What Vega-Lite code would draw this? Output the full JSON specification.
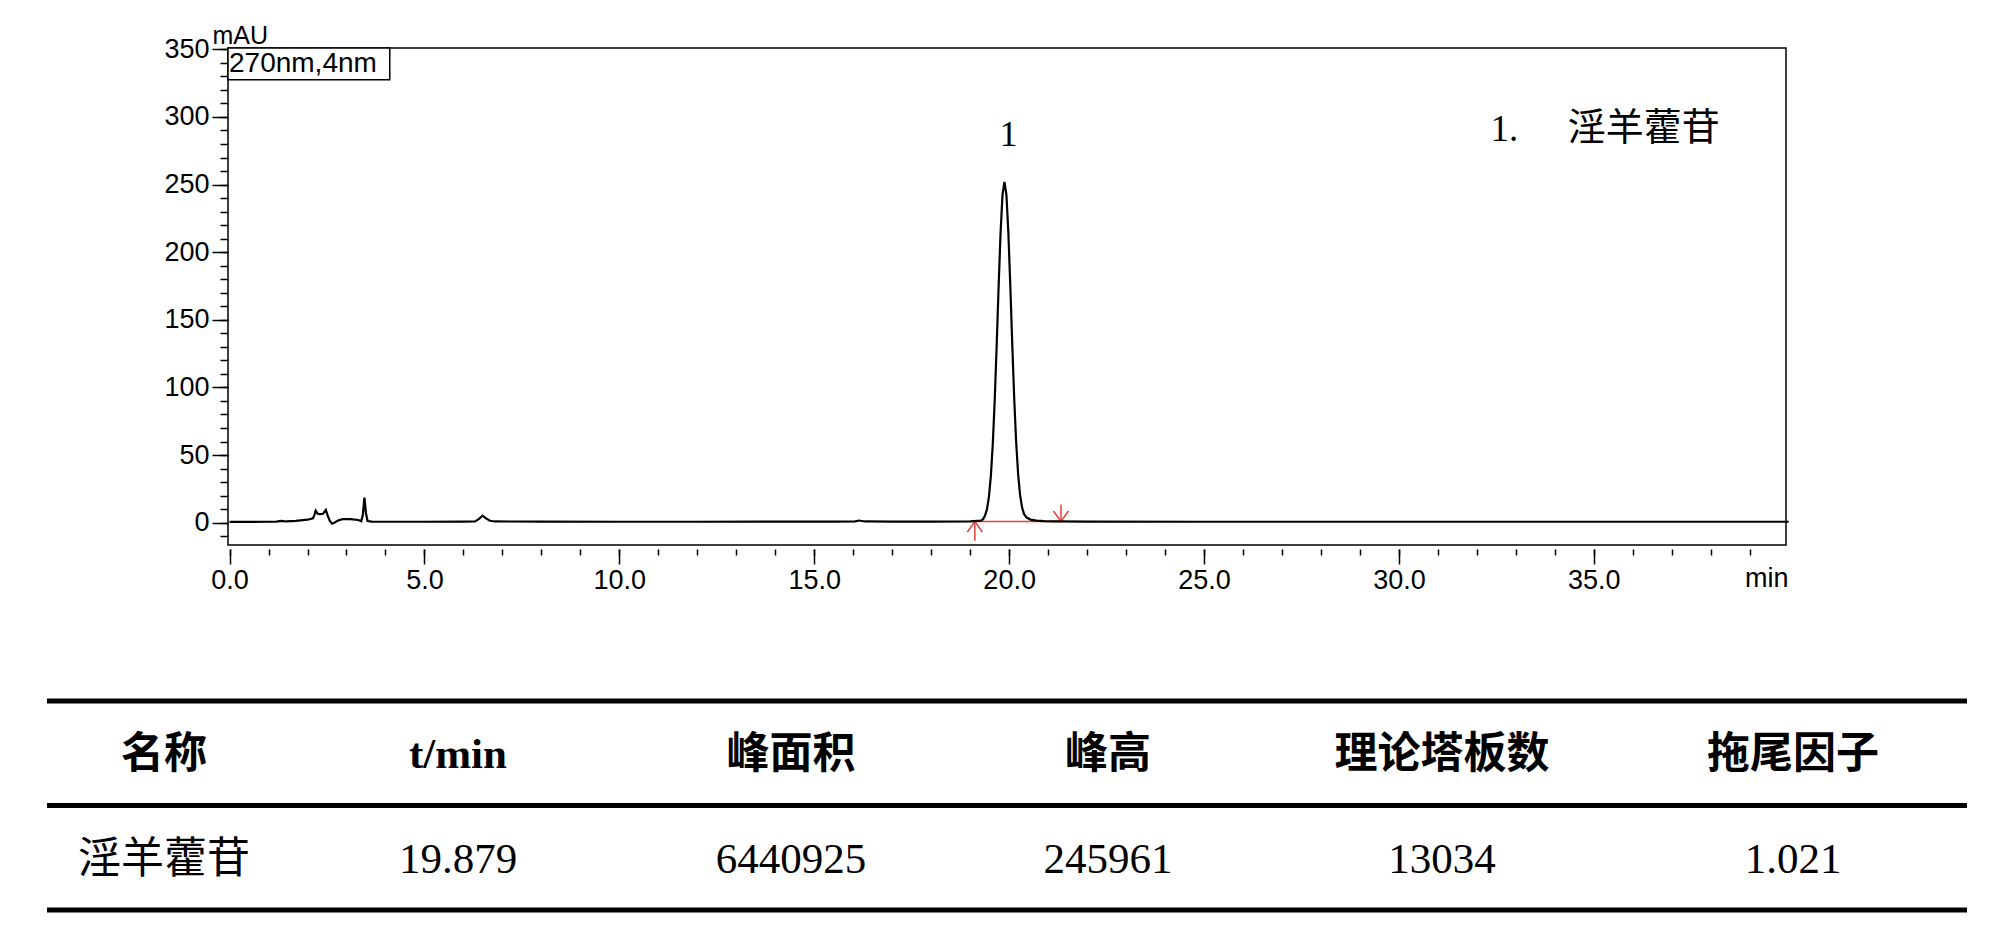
{
  "$schema": "https://vega.github.io/schema/vega-lite/v6.json",
  "background": "white",
  "padding": {"left": 44, "top": 22, "right": 10, "bottom": 10},
  "bounds": "flush",
  "center": true,
  "spacing": 156,
  "config": {"font": "Liberation Sans"},
  "datasets": {
    "trace": [
      {"t": 0, "mAU": 0.6}, {"t": 0.5, "mAU": 0.6}, {"t": 1.0, "mAU": 0.7}, {"t": 1.2, "mAU": 0.8},
      {"t": 1.33, "mAU": 1.4}, {"t": 1.45, "mAU": 0.9}, {"t": 1.7, "mAU": 1.3}, {"t": 2.0, "mAU": 2.2},
      {"t": 2.14, "mAU": 3.3}, {"t": 2.18, "mAU": 6.0}, {"t": 2.21, "mAU": 8.9}, {"t": 2.26, "mAU": 6.6},
      {"t": 2.32, "mAU": 6.3}, {"t": 2.4, "mAU": 6.6}, {"t": 2.47, "mAU": 9.4}, {"t": 2.52, "mAU": 5.0},
      {"t": 2.57, "mAU": 1.5}, {"t": 2.63, "mAU": -0.7}, {"t": 2.7, "mAU": 0.2}, {"t": 2.78, "mAU": 1.6},
      {"t": 2.9, "mAU": 2.6}, {"t": 3.1, "mAU": 2.7}, {"t": 3.3, "mAU": 2.0}, {"t": 3.38, "mAU": 1.0},
      {"t": 3.42, "mAU": 6.0}, {"t": 3.46, "mAU": 18.5}, {"t": 3.5, "mAU": 7.0}, {"t": 3.54, "mAU": 1.2},
      {"t": 3.65, "mAU": 0.8}, {"t": 4.0, "mAU": 0.7}, {"t": 5.0, "mAU": 0.7}, {"t": 6.0, "mAU": 0.8},
      {"t": 6.3, "mAU": 1.0}, {"t": 6.4, "mAU": 2.8}, {"t": 6.49, "mAU": 5.2}, {"t": 6.58, "mAU": 3.2},
      {"t": 6.68, "mAU": 1.4}, {"t": 6.8, "mAU": 0.9}, {"t": 8.0, "mAU": 0.8}, {"t": 10.0, "mAU": 0.7},
      {"t": 12.0, "mAU": 0.7}, {"t": 14.0, "mAU": 0.8}, {"t": 15.5, "mAU": 0.8}, {"t": 16.05, "mAU": 1.0},
      {"t": 16.15, "mAU": 1.6}, {"t": 16.3, "mAU": 0.9}, {"t": 17.0, "mAU": 0.8}, {"t": 18.0, "mAU": 0.8},
      {"t": 19.0, "mAU": 0.9}, {"t": 19.28, "mAU": 1.5}, {"t": 19.33, "mAU": 2.6}, {"t": 19.38, "mAU": 5.0},
      {"t": 19.43, "mAU": 9.8}, {"t": 19.48, "mAU": 18.8}, {"t": 19.53, "mAU": 34.2}, {"t": 19.58, "mAU": 57.9},
      {"t": 19.63, "mAU": 90.7}, {"t": 19.68, "mAU": 131.0}, {"t": 19.73, "mAU": 174.6}, {"t": 19.78, "mAU": 214.4},
      {"t": 19.83, "mAU": 242.6}, {"t": 19.879, "mAU": 252.0}, {"t": 19.93, "mAU": 242.5}, {"t": 19.98, "mAU": 214.5},
      {"t": 20.03, "mAU": 175.0}, {"t": 20.08, "mAU": 132.0}, {"t": 20.13, "mAU": 92.0}, {"t": 20.18, "mAU": 59.5},
      {"t": 20.23, "mAU": 36.0}, {"t": 20.28, "mAU": 20.5}, {"t": 20.33, "mAU": 11.5}, {"t": 20.38, "mAU": 6.5},
      {"t": 20.45, "mAU": 3.8}, {"t": 20.55, "mAU": 2.3}, {"t": 20.7, "mAU": 1.5}, {"t": 20.9, "mAU": 1.1},
      {"t": 21.2, "mAU": 0.9}, {"t": 22.0, "mAU": 0.8}, {"t": 25.0, "mAU": 0.7}, {"t": 30.0, "mAU": 0.7},
      {"t": 35.0, "mAU": 0.7}, {"t": 40.0, "mAU": 0.7}
    ],
    "integration": [{"start": 19.12, "end": 21.33, "level": 0.9}],
    "peaks": [{"peak": 1, "key": "1.", "name": "淫羊藿苷", "rt": 19.879, "apex": 252}],
    "detector": [{"label": "270nm,4nm"}],
    "tableRows": [{"row": "header"}, {"row": "data"}],
    "cells": [
      {"row": "header", "ci": 1, "text": "名称"},
      {"row": "header", "ci": 2, "text": "t/min"},
      {"row": "header", "ci": 3, "text": "峰面积"},
      {"row": "header", "ci": 4, "text": "峰高"},
      {"row": "header", "ci": 5, "text": "理论塔板数"},
      {"row": "header", "ci": 6, "text": "拖尾因子"},
      {"row": "data", "ci": 1, "text": "淫羊藿苷"},
      {"row": "data", "ci": 2, "text": "19.879"},
      {"row": "data", "ci": 3, "text": "6440925"},
      {"row": "data", "ci": 4, "text": "245961"},
      {"row": "data", "ci": 5, "text": "13034"},
      {"row": "data", "ci": 6, "text": "1.021"}
    ]
  },
  "vconcat": [
    {
      "width": 1558,
      "height": 497,
      "view": {"stroke": "black", "strokeWidth": 1.5},
      "resolve": {"axis": {"x": "independent", "y": "independent"}},
      "layer": [
        {
          "data": {"name": "integration"},
          "mark": {"type": "rule", "color": "#e8413c", "strokeWidth": 1.5},
          "encoding": {
            "x": {"field": "start", "type": "quantitative",
              "scale": {"domain": [-0.04, 39.93], "nice": false, "zero": false},
              "axis": {"orient": "bottom", "values": [0,1,2,3,4,5,6,7,8,9,10,11,12,13,14,15,16,17,18,19,20,21,22,23,24,25,26,27,28,29,30,31,32,33,34,35,36,37,38,39,40],
                "labels": false, "domain": false, "grid": false, "title": null, "tickSize": 6, "tickWidth": 1.5, "tickColor": "black", "offset": 4}},
            "x2": {"field": "end"},
            "y": {"field": "level", "type": "quantitative",
              "scale": {"domain": [-16.5, 351], "nice": false, "zero": false},
              "axis": {"orient": "left", "values": [-10,0,10,20,30,40,50,60,70,80,90,100,110,120,130,140,150,160,170,180,190,200,210,220,230,240,250,260,270,280,290,300,310,320,330,340,350],
                "labels": false, "domain": false, "grid": false, "title": null, "tickSize": 8, "tickWidth": 1.5, "tickColor": "black"}}
          }
        },
        {
          "data": {"name": "integration"},
          "mark": {"type": "rule", "color": "#e8413c", "strokeWidth": 1.5},
          "encoding": {
            "x": {"field": "start", "type": "quantitative", "axis": null},
            "y": {"field": "level", "type": "quantitative", "axis": null},
            "y2": {"datum": -13.3}
          }
        },
        {
          "data": {"name": "integration"},
          "mark": {"type": "rule", "color": "#e8413c", "strokeWidth": 1.5},
          "encoding": {
            "x": {"field": "end", "type": "quantitative", "axis": null},
            "y": {"field": "level", "type": "quantitative", "axis": null},
            "y2": {"datum": 13.5}
          }
        },
        {
          "data": {"name": "integration"},
          "mark": {"type": "point", "shape": "M-1,1.4L0,0L1,1.4", "size": 225, "filled": false, "stroke": "#e8413c", "strokeWidth": 1.5, "opacity": 1},
          "encoding": {
            "x": {"field": "start", "type": "quantitative", "axis": null},
            "y": {"field": "level", "type": "quantitative", "axis": null}
          }
        },
        {
          "data": {"name": "integration"},
          "mark": {"type": "point", "shape": "M-1,-1.4L0,0L1,-1.4", "size": 225, "filled": false, "stroke": "#e8413c", "strokeWidth": 1.5, "opacity": 1},
          "encoding": {
            "x": {"field": "end", "type": "quantitative", "axis": null},
            "y": {"field": "level", "type": "quantitative", "axis": null}
          }
        },
        {
          "data": {"name": "trace"},
          "mark": {"type": "line", "color": "black", "strokeWidth": 2.2, "clip": false},
          "encoding": {
            "x": {"field": "t", "type": "quantitative",
              "axis": {"orient": "bottom", "values": [0,5,10,15,20,25,30,35,40],
                "labelExpr": "datum.value == 40 ? '' : format(datum.value, '.1f')",
                "domain": false, "grid": false, "tickSize": 15, "tickWidth": 1.5, "tickColor": "black", "offset": 4,
                "labelFont": "Liberation Sans", "labelFontSize": 27, "labelColor": "black", "labelPadding": 3,
                "labelFlush": false, "labelOverlap": false,
                "title": "min", "titleX": 1560, "titleY": 37, "titleAlign": "right", "titleBaseline": "alphabetic",
                "titleFont": "Liberation Sans", "titleFontSize": 27, "titleFontWeight": "normal", "titleColor": "black"}},
            "y": {"field": "mAU", "type": "quantitative",
              "axis": {"orient": "left", "values": [0,50,100,150,200,250,300,350], "format": "d",
                "domain": false, "grid": false, "tickSize": 16, "tickWidth": 1.5, "tickColor": "black",
                "labelFont": "Liberation Sans", "labelFontSize": 27, "labelColor": "black", "labelPadding": 3,
                "labelFlush": false, "labelOverlap": false,
                "title": "mAU", "titleAngle": 0, "titleX": -16, "titleY": -5, "titleAlign": "left", "titleBaseline": "alphabetic",
                "titleFont": "Liberation Sans", "titleFontSize": 25, "titleFontWeight": "normal", "titleColor": "black"}}
          }
        },
        {
          "data": {"name": "detector"},
          "mark": {"type": "rect", "fill": "white", "stroke": "black", "strokeWidth": 1.5},
          "encoding": {
            "x": {"datum": -0.04, "type": "quantitative", "axis": null},
            "x2": {"datum": 4.11},
            "y": {"datum": 351, "type": "quantitative", "axis": null},
            "y2": {"datum": 327.6}
          }
        },
        {
          "data": {"name": "detector"},
          "mark": {"type": "text", "align": "left", "baseline": "alphabetic", "font": "Liberation Sans", "fontSize": 28, "color": "black", "dx": 1, "dy": 24},
          "encoding": {
            "x": {"datum": -0.04, "type": "quantitative", "axis": null},
            "y": {"datum": 351, "type": "quantitative", "axis": null},
            "text": {"field": "label"}
          }
        },
        {
          "data": {"name": "peaks"},
          "mark": {"type": "text", "align": "center", "baseline": "alphabetic", "font": "Liberation Serif", "fontSize": 36, "color": "black", "dx": 4, "dy": -36},
          "encoding": {
            "x": {"field": "rt", "type": "quantitative", "axis": null},
            "y": {"field": "apex", "type": "quantitative", "axis": null},
            "text": {"field": "peak"}
          }
        },
        {
          "data": {"name": "peaks"},
          "mark": {"type": "text", "align": "left", "baseline": "alphabetic", "font": "Liberation Serif", "fontSize": 37, "color": "black"},
          "encoding": {
            "x": {"datum": 32.35, "type": "quantitative", "axis": null},
            "y": {"datum": 282, "type": "quantitative", "axis": null},
            "text": {"field": "key"}
          }
        },
        {
          "data": {"name": "peaks"},
          "mark": {"type": "text", "align": "left", "baseline": "middle", "font": "Noto Sans CJK SC", "fontSize": 38, "color": "black"},
          "encoding": {
            "x": {"datum": 34.33, "type": "quantitative", "axis": null},
            "y": {"datum": 291, "type": "quantitative", "axis": null},
            "text": {"field": "name"}
          }
        }
      ]
    },
    {
      "width": 1920,
      "height": 209,
      "view": {"stroke": null},
      "layer": [
        {
          "data": {"name": "tableRows"},
          "mark": {"type": "rule", "color": "black", "strokeWidth": 5},
          "encoding": {
            "y": {"field": "row", "type": "nominal", "bandPosition": 0,
              "scale": {"type": "band", "domain": ["header", "data"], "paddingInner": 0, "paddingOuter": 0}, "axis": null}
          }
        },
        {
          "data": {"name": "tableRows"},
          "transform": [{"filter": "datum.row === 'data'"}],
          "mark": {"type": "rule", "color": "black", "strokeWidth": 5},
          "encoding": {
            "y": {"field": "row", "type": "nominal", "bandPosition": 1, "axis": null}
          }
        },
        {
          "data": {"name": "cells"},
          "transform": [{"filter": "datum.row === 'header' && datum.ci !== 2"}],
          "mark": {"type": "text", "font": "Noto Sans CJK SC", "fontWeight": "bold", "fontSize": 43, "color": "black", "baseline": "middle", "align": "center", "dy": 2},
          "encoding": {
            "x": {"field": "ci", "type": "quantitative", "scale": {"domain": [1, 2, 3, 4, 5, 6], "range": [117, 411, 744, 1061, 1395, 1746]}, "axis": null},
            "y": {"field": "row", "type": "nominal", "bandPosition": 0.5, "axis": null},
            "text": {"field": "text"}
          }
        },
        {
          "data": {"name": "cells"},
          "transform": [{"filter": "datum.row === 'header' && datum.ci === 2"}],
          "mark": {"type": "text", "font": "Liberation Serif", "fontWeight": "bold", "fontSize": 43, "color": "black", "baseline": "middle", "align": "center", "dy": 2},
          "encoding": {
            "x": {"field": "ci", "type": "quantitative", "axis": null},
            "y": {"field": "row", "type": "nominal", "bandPosition": 0.5, "axis": null},
            "text": {"field": "text"}
          }
        },
        {
          "data": {"name": "cells"},
          "transform": [{"filter": "datum.row === 'data' && datum.ci === 1"}],
          "mark": {"type": "text", "font": "Noto Sans CJK SC", "fontSize": 43, "color": "black", "baseline": "middle", "align": "center", "dy": 2},
          "encoding": {
            "x": {"field": "ci", "type": "quantitative", "axis": null},
            "y": {"field": "row", "type": "nominal", "bandPosition": 0.5, "axis": null},
            "text": {"field": "text"}
          }
        },
        {
          "data": {"name": "cells"},
          "transform": [{"filter": "datum.row === 'data' && datum.ci !== 1"}],
          "mark": {"type": "text", "font": "Liberation Serif", "fontSize": 43, "color": "black", "baseline": "middle", "align": "center", "dy": 2},
          "encoding": {
            "x": {"field": "ci", "type": "quantitative", "axis": null},
            "y": {"field": "row", "type": "nominal", "bandPosition": 0.5, "axis": null},
            "text": {"field": "text"}
          }
        }
      ]
    }
  ]
}
